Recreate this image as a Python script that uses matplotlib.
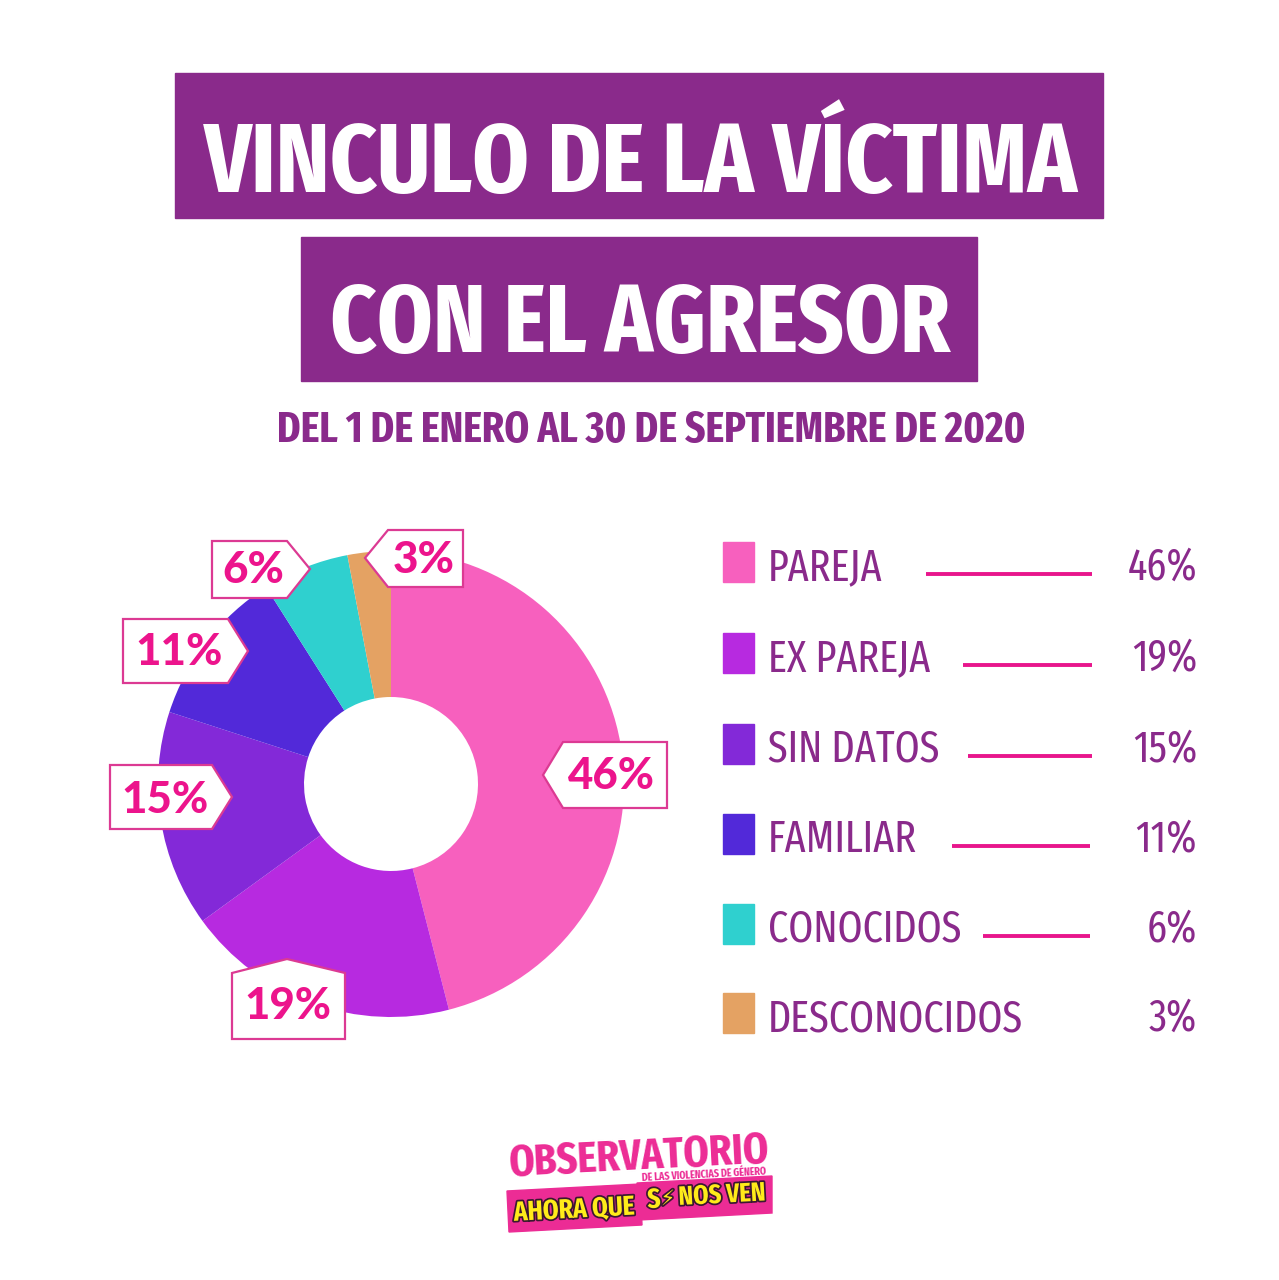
import os
import matplotlib.pyplot as plt
import matplotlib.font_manager as fm
from matplotlib.font_manager import FontProperties
from matplotlib.patches import Polygon, Rectangle
import matplotlib.patheffects as pe

# datos del grafico
categorias = ['PAREJA', 'EX PAREJA', 'SIN DATOS', 'FAMILIAR', 'CONOCIDOS', 'DESCONOCIDOS']
porcentajes = [46, 19, 15, 11, 6, 3]
colores = ['#F760BE', '#B72AE0', '#8329D8', '#5229D9', '#2FD0CF', '#E4A263']

titulo = ['VINCULO DE LA VÍCTIMA', 'CON EL AGRESOR']
subtitulo = 'DEL 1 DE ENERO AL 30 DE SEPTIEMBRE DE 2020'

MORADO = '#8A2A8B'
ROSA = '#EC148C'


def elegir(peso):
    # busca la fuente angosta instalada con el peso mas parecido
    mejor, mejor_p = None, -1e9
    for f in fm.fontManager.ttflist:
        txt = (f.name + ' ' + os.path.basename(f.fname)).lower()
        txt = txt.replace(' ', '').replace('-', '').replace('_', '')
        if f.style != 'normal' or 'italic' in txt or 'oblique' in txt:
            continue
        st = f.stretch if isinstance(f.stretch, int) else fm.stretch_dict.get(f.stretch, 500)
        if 'extracondensed' in txt or 'ultracondensed' in txt:
            st = min(st, 200)
        elif 'semicondensed' in txt:
            st = min(st, 400)
        elif 'condensed' in txt or 'narrow' in txt:
            st = min(st, 300)
        if st >= 500:
            continue
        w = f.weight if isinstance(f.weight, int) else fm.weight_dict.get(f.weight, 400)
        p = (500 - st) - abs(w - peso) / 2
        if p > mejor_p:
            mejor, mejor_p = f.fname, p
    if mejor is None:
        mejor = fm.findfont(FontProperties(family='DejaVu Sans',
                                           weight='bold' if peso >= 600 else 'normal'))
    return mejor


F_BOLD = elegir(700)
F_REG = elegir(400)

W, H = 1279, 1280
fig = plt.figure(figsize=(W / 100, H / 100), dpi=100)
ax = fig.add_axes([0, 0, 1, 1])
renderer = fig.canvas.get_renderer()


def texto(x, y, s, fname, size=30, **kw):
    return ax.text(x, y, s, fontproperties=FontProperties(fname=fname, size=size), **kw)


def fit(t, width):
    # ajusta el tamano de letra al ancho deseado (en pixeles)
    bb = t.get_window_extent(renderer)
    t.set_fontsize(t.get_fontsize() * width / bb.width)
    return t


# pie (el eje y esta invertido: startangle -90 = arriba, sentido horario)
ax.pie(porcentajes, colors=colores, startangle=-90, counterclock=True,
       center=(391, 784), radius=233,
       wedgeprops=dict(width=233 - 87, linewidth=0))
ax.set_xlim(0, W)
ax.set_ylim(H, 0)
ax.set_aspect('auto')
ax.axis('off')

# titulo
ax.add_patch(Rectangle((175, 73), 928, 145, color=MORADO, zorder=3))
ax.add_patch(Rectangle((301, 237), 676, 144, color=MORADO, zorder=3))
t = texto(641, 192, titulo[0], F_BOLD, 60, color='white', ha='center', va='baseline', zorder=4)
fit(t, 875)
t = texto(640, 352, titulo[1], F_BOLD, 60, color='white', ha='center', va='baseline', zorder=4)
fit(t, 620)
t = texto(651, 442, subtitulo, F_BOLD, 30, color=MORADO, ha='center', va='baseline')
fit(t, 748)

# etiquetas sobre el pie
etiquetas = [
    ([(543, 775), (563, 742), (667, 742), (667, 808), (563, 808)], (611, 776)),
    ([(287, 959), (345, 973), (345, 1039), (232, 1039), (232, 973)], (288, 1006)),
    ([(110, 765), (212, 765), (232, 797), (212, 829), (110, 829)], (165, 800)),
    ([(123, 619), (228, 619), (248, 651), (228, 683), (123, 683)], (179, 652)),
    ([(212, 541), (287, 541), (310, 569), (287, 598), (212, 598)], (253, 570)),
    ([(365, 558), (388, 530), (463, 530), (463, 587), (388, 587)], (424, 560)),
]
for (verts, (tx, ty)), p in zip(etiquetas, porcentajes):
    ax.add_patch(Polygon(verts, closed=True, facecolor='white',
                         edgecolor='#DC3A93', linewidth=1.6, zorder=5))
    t = ax.text(tx, ty, f'{p}%', color=ROSA, fontsize=31, fontweight='black',
                family=['Lato', 'Liberation Sans', 'DejaVu Sans'],
                ha='center', va='center', zorder=6)
    fit(t, 87 if p >= 10 else 62)

# leyenda
filas_y = [562, 653, 744, 834, 924, 1013]
linea_x = [(926, 1092), (963, 1092), (968, 1092), (952, 1090), (983, 1090), None]
prueba = texto(0, 0, 'DESCONOCIDOS', F_REG, 30)
fit(prueba, 255)
tam = prueba.get_fontsize()
prueba.remove()
for i, (cat, p, c) in enumerate(zip(categorias, porcentajes, colores)):
    y = filas_y[i]
    ax.add_patch(Rectangle((723, y - 20), 31, 40, color=c))
    texto(768, y + 18, cat, F_REG, tam, color=MORADO, ha='left', va='baseline')
    texto(1197, y + 18, f'{p}%', F_REG, tam, color=MORADO, ha='right', va='baseline')
    if linea_x[i] is not None:
        ax.plot(linea_x[i], [y + 12, y + 12], color='#E8168C', lw=2.8,
                solid_capstyle='butt')

# logo
ax.add_patch(Polygon([(507, 1191), (640, 1184), (642, 1225), (509, 1232)],
                     closed=True, color='#EC2C95'))
ax.add_patch(Polygon([(637, 1183), (772, 1176), (772, 1213), (639, 1220)],
                     closed=True, color='#EC2C95'))
t = texto(639, 1158, 'OBSERVATORIO', F_BOLD, 30, color='#EC2C95',
          ha='center', va='center', rotation=3)
fit(t, 262)
t = texto(704, 1175, 'DE LAS VIOLENCIAS DE GÉNERO', F_BOLD, 6, color='#EC2C95',
          ha='center', va='center', rotation=3)
fit(t, 125)
borde = [pe.withStroke(linewidth=2.5, foreground='#3A1830')]
t = texto(574, 1210, 'AHORA QUE', F_BOLD, 20, color='#FFEB1A', ha='center',
          va='center', rotation=3, path_effects=borde)
fit(t, 122)
t = texto(654, 1200, 'S', F_BOLD, 20, color='#FFEB1A', ha='center',
          va='center', rotation=3, path_effects=borde)
t.set_fontsize(fit(ax.texts[-2], 122).get_fontsize())
ax.text(668, 1199, '⚡', color='#FFEB1A', fontsize=15, family='DejaVu Sans',
        ha='center', va='center', rotation=3, path_effects=borde)
t = texto(722, 1195, 'NOS VEN', F_BOLD, 20, color='#FFEB1A', ha='center',
          va='center', rotation=3, path_effects=borde)
fit(t, 88)

fig.savefig('out.png', dpi=100, facecolor='white')
